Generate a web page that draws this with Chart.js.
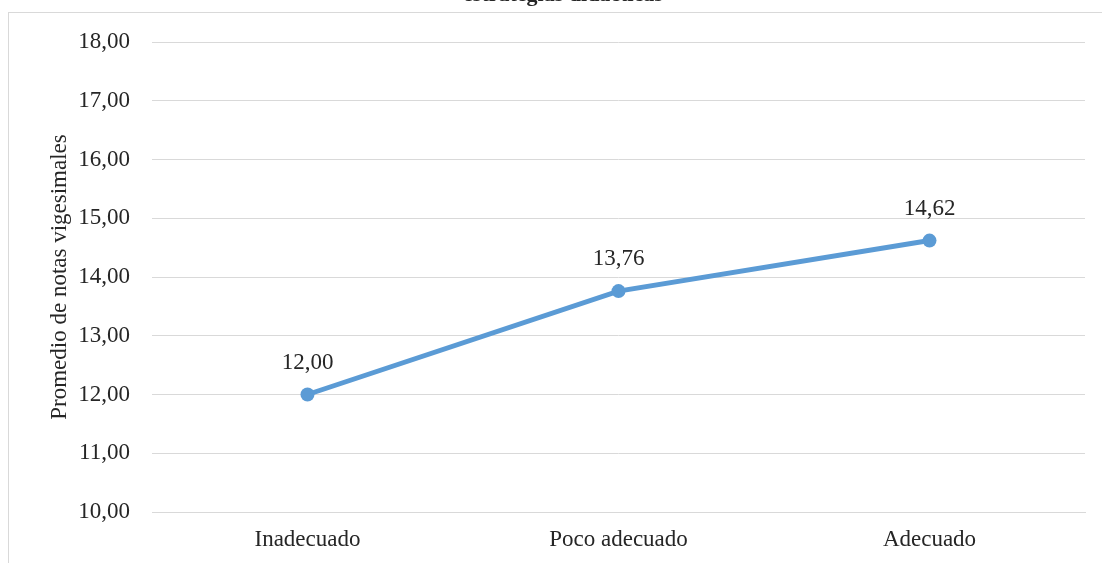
<!DOCTYPE html>
<html>
<head>
<meta charset="utf-8">
<script src="https://cdn.jsdelivr.net/npm/chart.js@4/dist/chart.umd.min.js"></script>
<style>
  html, body { margin: 0; padding: 0; background: #fff; overflow: hidden; width: 1102px; height: 563px; }
  #frame { position: absolute; left: 8px; top: 12px; width: 1200px; height: 700px; border: 1px solid #d9d9d9; box-sizing: border-box; }
  #wrap { position: absolute; left: 0; top: 0; width: 1102px; height: 563px; }
</style>
</head>
<body>
<div id="frame"></div>
<div id="wrap"><canvas id="c" width="1102" height="563"></canvas></div>
<script>
const chartTitle = "estrategias didácticas";
const categories = ["Inadecuado", "Poco adecuado", "Adecuado"];
const promedios = [12.00, 13.76, 14.62];
const yMin = 10, yMax = 18, yStep = 1;
const yAxisTitle = "Promedio de notas vigesimales";

const FONT = "'Liberation Serif', 'Times New Roman', serif";
const TEXT = "#262626";
const LINE = "#5B9BD5";
const GRID = "#d9d9d9";

const fmt = v => v.toFixed(2).replace('.', ',');

const titlePlugin = {
  id: 'clippedTitle',
  afterDraw(chart) {
    const ctx = chart.ctx;
    ctx.save();
    ctx.font = "bold 22px " + FONT;
    ctx.fillStyle = TEXT;
    ctx.textAlign = 'center';
    ctx.textBaseline = 'alphabetic';
    ctx.fillText(chartTitle, 563, 0.5);
    ctx.restore();
  }
};

const labelPlugin = {
  id: 'pointLabels',
  afterDatasetsDraw(chart) {
    const ctx = chart.ctx;
    const meta = chart.getDatasetMeta(0);
    ctx.save();
    ctx.font = "23px " + FONT;
    ctx.fillStyle = TEXT;
    ctx.textAlign = 'center';
    ctx.textBaseline = 'middle';
    meta.data.forEach((pt, i) => {
      ctx.fillText(fmt(chart.data.datasets[0].data[i]), pt.x, pt.y - 32);
    });
    ctx.restore();
  }
};

new Chart(document.getElementById('c'), {
  type: 'line',
  data: {
    labels: categories,
    datasets: [{
      data: promedios,
      borderColor: LINE,
      backgroundColor: LINE,
      borderWidth: 5,
      pointRadius: 7,
      pointHoverRadius: 7,
      pointBackgroundColor: LINE,
      pointBorderColor: LINE,
      pointBorderWidth: 0,
      tension: 0,
      fill: false
    }]
  },
  options: {
    responsive: false,
    animation: false,
    devicePixelRatio: 1,
    layout: { padding: { top: 42, right: 17, bottom: 0, left: 0 } },
    plugins: {
      legend: { display: false },
      title: { display: false },
      tooltip: { enabled: false }
    },
    scales: {
      x: {
        type: 'category',
        offset: true,
        grid: { display: false, drawTicks: false },
        border: { display: true, color: GRID, width: 1 },
        ticks: { color: TEXT, font: { family: FONT, size: 23 }, padding: 14, maxRotation: 0 },
        afterFit(s) { s.height = 51; }
      },
      y: {
        min: yMin, max: yMax,
        grid: { color: GRID, lineWidth: 1, drawTicks: false },
        border: { display: false },
        ticks: {
          stepSize: yStep,
          color: TEXT,
          font: { family: FONT, size: 23 },
          padding: 22,
          callback: v => fmt(v)
        },
        title: {
          display: true,
          text: yAxisTitle,
          color: TEXT,
          font: { family: FONT, size: 23 },
          padding: { top: 46, bottom: 0 }
        },
        afterFit(s) { s.width = 152; }
      }
    }
  },
  plugins: [titlePlugin, labelPlugin]
});
</script>
</body>
</html>
